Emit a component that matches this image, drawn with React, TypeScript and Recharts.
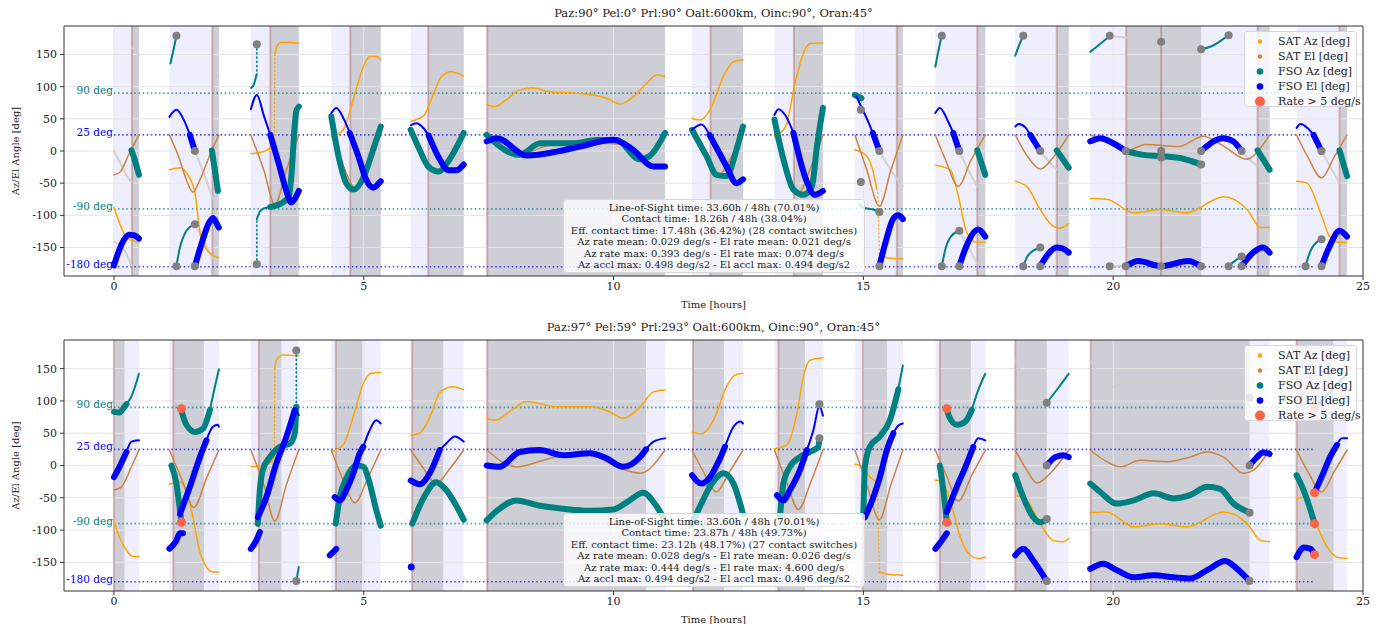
import React from 'react'
import {
  ComposedChart,
  Line,
  Scatter,
  XAxis,
  YAxis,
  ReferenceArea,
  ReferenceLine,
} from 'recharts'

type P = [number, number]

const xTicks = [0, 5, 10, 15, 20, 25]
const yTicks = [-150, -100, -50, 0, 50, 100, 150]

// reference levels drawn as dotted guides
const refLevels = [90, 25, -90, -180]
const refLabels = ['90 deg', '25 deg', '-90 deg', '-180 deg']

const legendNames = ['SAT Az [deg]', 'SAT El [deg]', 'FSO Az [deg]', 'FSO El [deg]', 'Rate > 5 deg/s']

// line-of-sight windows (hours), same orbit in both runs
const losWindows: P[] = [
  [0, 0.5], [1.11, 2.1], [2.74, 3.7], [4.35, 5.34], [5.94, 7.0], [7.46, 11.03], [11.57, 12.59],
  [13.22, 14.19], [14.83, 15.79], [16.44, 17.44], [18.04, 19.11], [19.54, 23.13], [23.67, 24.68],
]

// ---------------- run 1 ----------------
const title1 = 'Paz:90° Pel:0° Prl:90° Oalt:600km, Oinc:90°, Oran:45°'
const stats1 = [
  'Line-of-Sight time: 33.60h / 48h (70.01%)',
  'Contact time: 18.26h / 48h (38.04%)',
  'Eff. contact time: 17.48h (36.42%) (28 contact switches)',
  'Az rate mean: 0.029 deg/s - El rate mean: 0.021 deg/s',
  'Az rate max: 0.393 deg/s - El rate max: 0.074 deg/s',
  'Az accl max: 0.498 deg/s2 - El accl max: 0.494 deg/s2',
]
const contact1: P[] = [
  [0.36, 0.5], [1.97, 2.1], [3.13, 3.7], [4.73, 5.34], [6.29, 7.0], [7.47, 11.03], [11.94, 12.59],
  [13.61, 14.19], [15.67, 15.79], [17.28, 17.44], [18.87, 19.11], [20.26, 21.76], [22.89, 23.13], [24.53, 24.68],
]
const switches1 = [0.36, 1.97, 3.13, 4.73, 6.29, 7.47, 11.94, 13.61, 15.67, 17.28, 18.87, 20.26, 20.96, 22.89, 24.53]

const satAz1: P[][] = [
  [[0, -88], [0.1, -110], [0.2, -128], [0.35, -139], [0.5, -141]],
  [[1.11, -29], [1.35, -26], [1.45, -34], [1.62, -65], [1.72, -125], [1.85, -153], [2.0, -163], [2.1, -166]],
  [[2.74, -4], [2.95, -2], [3.13, 5], [3.2, 18]],
  [[3.22, 150], [3.27, 164], [3.35, 169], [3.7, 168]],
  [[4.35, 23], [4.45, 25], [4.59, 33], [4.79, 80], [4.99, 131], [5.12, 147], [5.25, 147], [5.34, 142]],
  [[5.94, 46], [6.2, 55], [6.4, 90], [6.55, 115], [6.75, 123], [6.9, 120], [7.0, 116]],
  [[7.46, 72], [7.62, 69], [7.86, 80], [8.12, 95], [8.39, 98], [8.72, 92], [9.19, 90], [9.59, 87], [9.86, 82],
    [10.13, 73], [10.39, 84], [10.66, 105], [10.86, 118], [11.03, 116]],
  [[11.57, 51], [11.73, 48], [11.93, 64], [12.2, 116], [12.4, 139], [12.59, 142]],
  [[13.22, 25], [13.33, 28], [13.46, 41], [13.63, 105], [13.8, 152], [13.93, 167], [14.19, 168]],
  [[14.83, 2], [15.07, -8], [15.2, -34], [15.27, -60]],
  [[15.32, -160], [15.47, -166], [15.79, -168]],
  [[16.44, -22], [16.74, -29], [16.9, -70], [17.07, -127], [17.27, -142], [17.44, -142]],
  [[18.04, -47], [18.27, -55], [18.54, -91], [18.8, -117], [18.94, -120], [19.11, -113]],
  [[19.54, -74], [19.87, -75], [20.41, -96], [20.94, -91], [21.48, -96], [22.21, -71], [22.68, -91], [22.95, -119], [23.13, -119]],
  [[23.67, -47], [23.88, -50], [24.15, -96], [24.35, -135], [24.55, -142], [24.68, -142]],
]
const satAzWrap1: P[][] = [
  [[3.21, 18], [3.22, 150]],
  [[15.29, -65], [15.32, -160]],
]
const satEl1: P[][] = [
  [[0, -37], [0.12, -33], [0.3, -5], [0.5, 25]],
  [[1.11, 25], [1.3, -10], [1.45, -45], [1.58, -64], [1.72, -45], [1.9, -10], [2.1, 25]],
  [[2.74, 25], [3.0, -30], [3.22, -83], [3.45, -30], [3.7, 25]],
  [[4.35, 25], [4.6, -25], [4.82, -57], [5.05, -25], [5.34, 25]],
  [[5.94, 25], [6.2, -10], [6.47, -35], [6.75, -10], [7.0, 25]],
  [[7.46, 25], [8.1, -5], [8.8, 10], [9.6, 12], [10.2, 10], [10.55, -12], [11.03, 25]],
  [[11.57, 25], [11.85, -10], [12.08, -40], [12.35, -10], [12.59, 25]],
  [[13.22, 25], [13.46, -25], [13.68, -68], [13.95, -25], [14.19, 25]],
  [[14.83, 25], [15.07, -30], [15.32, -86], [15.55, -30], [15.79, 25]],
  [[16.44, 25], [16.65, -15], [16.9, -55], [17.15, -15], [17.44, 25]],
  [[18.04, 25], [18.3, -10], [18.54, -28], [18.8, -10], [19.11, 25]],
  [[19.54, 25], [19.9, 15], [20.25, 0], [20.65, 10], [21.31, 7], [21.81, 23], [22.2, 8], [22.68, -13], [22.9, 0], [23.13, 25]],
  [[23.67, 25], [23.9, -10], [24.17, -42], [24.42, -10], [24.68, 25]],
]
const fsoAzThick1: P[][] = [
  [[0.35, 1], [0.42, -15], [0.5, -37]],
  [[1.96, 1], [2.02, -30], [2.08, -62]],
  [[3.13, -87], [3.38, -80], [3.5, -70], [3.56, -30], [3.6, 20], [3.65, 62], [3.7, 69]],
  [[4.35, 54], [4.5, -10], [4.65, -50], [4.8, -60], [5.0, -40], [5.2, 5], [5.34, 38]],
  [[5.94, 33], [6.1, 5], [6.3, -25], [6.5, -32], [6.7, -15], [7.0, 28]],
  [[7.46, 25], [7.86, 0], [8.12, -6], [8.53, 12], [9.19, 12], [9.66, 17], [10.06, 17], [10.52, -13], [10.72, -8], [11.03, 28]],
  [[11.57, 33], [11.86, -8], [12.06, -37], [12.26, -39], [12.46, 2], [12.59, 38]],
  [[13.22, 49], [13.4, -13], [13.6, -60], [13.8, -68], [13.97, -55], [14.07, 7], [14.19, 67]],
  [[14.83, 87], [14.96, 82]],
  [[17.28, 1], [17.44, -37]],
  [[18.87, 1], [19.11, -26]],
  [[20.25, 0], [20.6, -6], [20.96, -8], [21.4, -12], [21.76, -21]],
  [[22.89, 1], [23.13, -29]],
  [[24.53, 1], [24.68, -39]],
]
const fsoAzThin1: P[][] = [
  [[1.13, 136], [1.2, 160], [1.25, 179]],
  [[1.25, -179], [1.32, -150], [1.42, -128], [1.52, -118], [1.62, -114]],
  [[2.75, 98], [2.8, 103], [2.85, 118]],
  [[2.86, -106], [2.92, -94], [2.98, -90], [3.13, -87]],
  [[14.92, -83], [15.0, -88], [15.2, -91], [15.32, -95]],
  [[16.44, 131], [16.5, 155], [16.57, 179]],
  [[16.57, -179], [16.65, -150], [16.75, -133], [16.92, -124]],
  [[18.04, 148], [18.12, 165], [18.2, 179]],
  [[18.2, -179], [18.3, -162], [18.54, -150]],
  [[19.54, 154], [19.75, 167], [19.93, 179]],
  [[21.76, 158], [22.0, 164], [22.2, 174], [22.31, 180]],
  [[22.31, -179], [22.45, -170], [22.57, -164]],
  [[23.85, -179], [23.95, -155], [24.17, -137]],
]
const fsoAzWrap1: P[][] = [
  [[2.86, 118], [2.86, 166]],
  [[2.86, -176], [2.86, -106]],
]
const fsoElThick1: P[][] = [
  [[0, -178], [0.1, -155], [0.2, -138], [0.3, -130], [0.4, -131], [0.5, -136]],
  [[1.52, 25], [1.62, 0]],
  [[1.62, -179], [1.75, -145], [1.9, -112], [1.98, -104], [2.05, -112], [2.1, -119]],
  [[3.13, 25], [3.3, -20], [3.45, -62], [3.55, -80], [3.62, -74], [3.7, -62]],
  [[4.72, 28], [4.9, -10], [5.05, -45], [5.19, -57], [5.28, -52], [5.34, -47]],
  [[6.3, 24], [6.5, -10], [6.7, -30], [6.85, -30], [7.0, -21]],
  [[7.46, 15], [7.66, 20], [8.26, -7], [8.86, -1], [9.33, 7], [10.0, 17.5], [10.39, 2], [10.79, -24], [11.03, -24]],
  [[11.92, 25], [12.13, -5], [12.26, -24], [12.46, -50], [12.59, -44]],
  [[13.6, 28], [13.85, -44], [14.03, -68], [14.19, -62]],
  [[15.19, 28], [15.32, 0]],
  [[15.32, -179], [15.45, -140], [15.6, -105], [15.7, -100], [15.79, -106]],
  [[16.8, 28], [16.92, 0]],
  [[16.92, -179], [17.05, -150], [17.3, -122], [17.44, -133]],
  [[18.34, 25], [18.54, 0]],
  [[18.54, -179], [18.7, -160], [18.87, -150], [19.0, -152], [19.11, -158]],
  [[19.54, 15], [19.74, 20], [20.0, 12], [20.25, 0]],
  [[20.25, -179], [20.5, -171], [20.96, -179], [21.5, -171], [21.76, -179]],
  [[21.76, 0], [22.2, 20], [22.4, 15], [22.57, 0]],
  [[22.57, -179], [22.8, -158], [23.0, -150], [23.13, -158]],
  [[24.01, 25], [24.17, 0]],
  [[24.17, -179], [24.35, -145], [24.53, -124], [24.68, -133]],
]
const fsoElThin1: P[][] = [
  [[1.11, 53], [1.25, 64], [1.4, 48], [1.52, 25]],
  [[2.74, 65], [2.86, 87], [3.0, 55], [3.13, 25]],
  [[4.35, 59], [4.45, 67], [4.6, 50], [4.72, 28]],
  [[5.94, 40], [6.05, 43], [6.2, 35], [6.3, 24]],
  [[11.57, 33], [11.76, 41], [11.92, 25]],
  [[13.22, 56], [13.3, 65], [13.45, 54], [13.6, 28]],
  [[14.86, 85], [14.95, 70], [15.1, 45], [15.19, 28]],
  [[16.44, 59], [16.53, 67], [16.7, 45], [16.8, 28]],
  [[18.04, 38], [18.11, 42], [18.25, 36], [18.34, 25]],
  [[23.67, 36], [23.75, 42], [23.9, 35], [24.01, 25]],
]
const ghost1: P[][] = [
  [[0, 0], [0.12, -18], [0.25, -38], [0.35, -48]],
  [[0, -141], [0.12, -146], [0.25, -160], [0.35, -178]],
  [[0.38, 160], [0.5, 148]],
  [[1.62, 0], [1.8, -35], [1.98, -75]],
  [[1.62, -114], [1.8, -140], [1.98, -168]],
  [[2.02, 125], [2.1, 115]],
  [[15.32, 0], [15.55, -30], [15.79, -55]],
  [[16.92, 0], [17.1, -30], [17.28, -55]],
  [[16.92, -124], [17.1, -150], [17.28, -175]],
  [[18.54, 0], [18.7, -15], [18.87, -29]],
  [[19.93, 179], [20.4, 175], [20.96, 170], [21.4, 164], [21.76, 158]],
  [[19.93, -179], [20.25, -179]],
  [[22.57, 0], [22.75, -15], [22.89, -24]],
  [[24.17, 0], [24.35, -25], [24.53, -50]],
]
const grayDots1: P[] = [
  [1.25, 179], [1.62, 0], [1.25, -179], [1.62, -114], [1.62, -179], [2.86, 166], [2.86, -176],
  [14.95, 64], [14.95, -48], [15.32, 0], [15.32, -95], [15.32, -179],
  [16.57, 179], [16.92, 0], [16.57, -179], [16.92, -124], [16.92, -179],
  [18.2, 179], [18.54, 0], [18.2, -179], [18.54, -150], [18.54, -179],
  [19.93, 179], [20.96, 170], [21.76, 158], [22.31, 180], [20.25, 0], [20.96, 0], [20.96, -10], [21.76, 0],
  [21.76, -21], [22.57, 0], [19.93, -179], [20.25, -179], [20.96, -179], [21.76, -179], [22.31, -179],
  [22.57, -164], [22.57, -179], [24.17, 0], [23.85, -179], [24.17, -137], [24.17, -179],
]
const redDots1: P[] = []
const blueDots1: P[] = []

// ---------------- run 2 ----------------
const title2 = 'Paz:97° Pel:59° Prl:293° Oalt:600km, Oinc:90°, Oran:45°'
const stats2 = [
  'Line-of-Sight time: 33.60h / 48h (70.01%)',
  'Contact time: 23.87h / 48h (49.73%)',
  'Eff. contact time: 23.12h (48.17%) (27 contact switches)',
  'Az rate mean: 0.028 deg/s - El rate mean: 0.026 deg/s',
  'Az rate max: 0.444 deg/s - El rate max: 4.600 deg/s',
  'Az accl max: 0.494 deg/s2 - El accl max: 0.496 deg/s2',
]
const contact2: P[] = [
  [0, 0.21], [1.19, 1.8], [2.9, 3.35], [4.44, 4.97], [5.97, 6.59], [7.47, 10.65], [11.59, 12.21],
  [13.3, 13.83], [14.99, 15.47], [16.53, 17.15], [18.04, 18.67], [19.55, 22.73], [23.67, 24.41],
]
const switches2 = [0, 1.19, 2.9, 4.44, 5.97, 7.47, 11.59, 13.3, 14.99, 16.53, 18.04, 19.55, 23.67]

const satAz2: P[][] = [
  [[0, -87], [0.11, -111], [0.25, -131], [0.38, -141], [0.5, -141]],
  [[1.11, -29], [1.31, -25], [1.45, -38], [1.58, -80], [1.71, -131], [1.85, -157], [1.98, -165], [2.1, -165]],
  [[2.74, -2], [2.98, 0], [3.15, 6], [3.2, 12]],
  [[3.22, 150], [3.25, 163], [3.38, 171], [3.7, 170]],
  [[4.35, 21], [4.59, 32], [4.79, 76], [4.99, 127], [5.15, 143], [5.34, 144]],
  [[5.94, 47], [6.12, 50], [6.35, 80], [6.53, 114], [6.79, 122], [7.0, 117]],
  [[7.46, 73], [7.62, 70], [7.95, 85], [8.26, 99], [8.86, 91], [9.53, 91], [9.9, 84], [10.19, 73], [10.5, 88], [10.8, 114], [11.03, 117]],
  [[11.57, 52], [11.76, 49], [12.0, 70], [12.26, 122], [12.43, 140], [12.59, 143]],
  [[13.22, 26], [13.47, 32], [13.67, 81], [13.8, 138], [13.93, 163], [14.19, 167]],
  [[14.83, 2], [15.0, -2], [15.07, -12], [15.25, -25]],
  [[15.32, -165], [15.47, -168], [15.79, -170]],
  [[16.44, -23], [16.57, -25], [16.74, -54], [16.94, -111], [17.14, -139], [17.3, -144], [17.44, -142]],
  [[18.04, -46], [18.27, -54], [18.54, -90], [18.8, -116], [19.0, -118], [19.11, -113]],
  [[19.54, -73], [19.87, -72], [20.41, -95], [20.94, -90], [21.48, -95], [22.21, -72], [22.68, -90], [22.95, -116], [23.13, -118]],
  [[23.67, -51], [23.85, -49], [24.01, -80], [24.28, -126], [24.48, -142], [24.68, -144]],
]
const satAzWrap2: P[][] = [
  [[3.21, 12], [3.22, 150]],
  [[15.28, -28], [15.32, -165]],
]
const satEl2: P[][] = [
  [[0, -38], [0.15, -33], [0.35, -2], [0.5, 24]],
  [[1.11, 24], [1.35, -20], [1.6, -65], [1.85, -20], [2.1, 24]],
  [[2.74, 24], [3.0, -30], [3.22, -86], [3.45, -30], [3.7, 24]],
  [[4.35, 24], [4.6, -25], [4.82, -58], [5.08, -20], [5.34, 24]],
  [[5.94, 24], [6.2, -5], [6.45, -28], [6.72, -5], [7.0, 24]],
  [[7.46, 24], [8.06, -2], [8.86, 13], [9.53, 16], [10.06, -2], [10.53, -12], [11.03, 24]],
  [[11.57, 24], [11.8, -10], [12.05, -41], [12.32, -10], [12.59, 24]],
  [[13.22, 24], [13.46, -25], [13.7, -68], [13.95, -25], [14.19, 24]],
  [[14.83, 24], [15.07, -30], [15.32, -84], [15.55, -30], [15.79, 24]],
  [[16.44, 24], [16.66, -15], [16.9, -55], [17.17, -15], [17.44, 24]],
  [[18.04, 24], [18.27, -7], [18.47, -27], [18.74, -12], [19.11, 24]],
  [[19.54, 24], [19.87, 6], [20.14, -2], [20.54, 8], [21.07, 6], [21.54, 13], [21.87, 21], [22.21, 13], [22.61, -12], [22.81, -7], [23.13, 24]],
  [[23.67, 24], [23.9, -10], [24.17, -41], [24.42, -10], [24.68, 24]],
]
const fsoAzThick2: P[][] = [
  [[0, 83], [0.11, 82], [0.21, 91], [0.25, 95]],
  [[1.35, 85], [1.45, 63], [1.62, 52], [1.78, 57], [1.92, 86]],
  [[1.15, 0], [1.25, -28], [1.32, -69], [1.35, -87]],
  [[2.88, -90], [2.92, -38], [2.98, -7], [3.12, 13], [3.32, 29], [3.52, 34], [3.62, 50], [3.65, 91]],
  [[4.44, -90], [4.52, -49], [4.65, -20], [4.85, 0], [4.99, -2], [5.12, -28], [5.25, -69], [5.34, -93]],
  [[5.97, -90], [6.2, -50], [6.45, -26], [6.65, -38], [6.85, -62], [7.0, -84]],
  [[7.46, -85], [7.7, -68], [8.06, -54], [8.5, -62], [9.0, -67], [9.5, -70], [10.0, -68], [10.3, -55], [10.59, -42], [10.85, -62], [11.03, -85]],
  [[11.57, -90], [11.75, -60], [11.95, -30], [12.2, -12], [12.4, -28], [12.59, -75]],
  [[13.33, -80], [13.4, -28], [13.53, -2], [13.73, 13], [13.93, 21], [14.1, 29], [14.12, 42]],
  [[15.0, -75], [15.03, -2], [15.13, 29], [15.33, 45], [15.53, 70], [15.7, 118]],
  [[16.67, 88], [16.72, 75], [16.87, 63], [17.04, 68], [17.17, 86]],
  [[16.53, 0], [16.6, -38], [16.67, -88]],
  [[18.04, -15], [18.2, -49], [18.4, -80], [18.54, -88], [18.67, -83]],
  [[19.54, -28], [19.74, -41], [20.07, -59], [20.41, -54], [20.81, -43], [21.21, -51], [21.54, -46], [21.88, -33], [22.14, -36], [22.41, -59], [22.73, -73]],
  [[23.67, -15], [23.81, -38], [23.95, -69], [24.03, -90]],
]
const fsoAzThin2: P[][] = [
  [[0.25, 95], [0.35, 107], [0.5, 142]],
  [[1.92, 86], [2.02, 122], [2.1, 149]],
  [[3.65, -179], [3.7, -157]],
  [[15.7, 118], [15.79, 155]],
  [[17.17, 86], [17.3, 117], [17.44, 142]],
  [[18.67, 97], [18.9, 120], [19.11, 142]],
  [[24.03, 90], [24.3, 110], [24.68, 142]],
]
const fsoAzWrap2: P[][] = [
  [[3.65, 91], [3.65, 178]],
]
const fsoElThick2: P[][] = [
  [[0, -18], [0.11, -2], [0.25, 21]],
  [[1.32, -75], [1.52, -33], [1.72, 13], [1.85, 39]],
  [[1.11, -129], [1.25, -116], [1.32, -105], [1.38, -105]],
  [[2.88, -80], [3.05, -49], [3.25, 3], [3.45, 44], [3.62, 86]],
  [[2.74, -129], [2.85, -116], [2.92, -103]],
  [[4.42, -49], [4.52, -54], [4.65, -38], [4.79, -12], [4.92, 19], [4.99, 29]],
  [[4.32, -139], [4.45, -129]],
  [[5.94, -23], [6.12, -29], [6.32, -12], [6.52, 24]],
  [[7.46, 0], [7.72, -2], [8.12, 21], [8.52, 24], [8.99, 16], [9.53, 19], [9.86, 11], [10.19, -2], [10.53, 13], [10.65, 25]],
  [[11.57, -15], [11.76, -28], [11.93, -18], [12.1, 6], [12.23, 29]],
  [[13.27, -46], [13.4, -54], [13.53, -38], [13.73, -7], [13.87, 24]],
  [[15.03, -80], [15.2, -49], [15.33, -18], [15.47, 24], [15.6, 50]],
  [[16.67, -72], [16.87, -33], [17.07, 3], [17.2, 29]],
  [[16.44, -129], [16.57, -116], [16.67, -105]],
  [[18.67, 0], [18.84, 13], [19.0, 16], [19.11, 13]],
  [[18.04, -139], [18.2, -129], [18.4, -147], [18.67, -179]],
  [[19.54, -160], [19.8, -152], [20.07, -162], [20.41, -173], [20.81, -170], [21.21, -173], [21.54, -175], [21.88, -162], [22.24, -148], [22.48, -160], [22.73, -179]],
  [[22.73, 0], [22.88, 13], [23.0, 20], [23.13, 18]],
  [[24.03, -42], [24.17, -18], [24.34, 13], [24.48, 32]],
  [[23.67, -142], [23.82, -127], [23.95, -129], [24.03, -138]],
]
const fsoElThin2: P[][] = [
  [[0.25, 21], [0.35, 37], [0.5, 39]],
  [[1.85, 39], [1.98, 60], [2.08, 63], [2.1, 60]],
  [[3.62, 86], [3.7, 78]],
  [[4.99, 29], [5.12, 55], [5.25, 70], [5.34, 65]],
  [[6.52, 24], [6.65, 34], [6.82, 45], [7.0, 37]],
  [[10.65, 25], [10.8, 37], [11.03, 42]],
  [[12.23, 29], [12.4, 60], [12.54, 68], [12.59, 65]],
  [[13.87, 24], [14.0, 55], [14.12, 92], [14.19, 77]],
  [[15.6, 50], [15.7, 62], [15.79, 65]],
  [[17.2, 29], [17.3, 42], [17.44, 39]],
  [[24.48, 32], [24.58, 42], [24.68, 42]],
]
const ghost2: P[][] = [
  [[18.04, 163], [18.2, 135], [18.4, 101], [18.67, 97]],
  [[19.54, 163], [20.0, 122], [20.41, 130], [21.2, 130], [21.8, 128], [22.4, 110], [22.73, 105]],
]
const grayDots2: P[] = [
  [3.65, 178], [3.65, -179], [14.12, 95], [14.12, 42], [18.67, 97], [18.67, 0], [18.67, -83], [18.67, -179],
  [22.73, 0], [22.73, -73], [22.73, -179], [22.73, 105],
]
const redDots2: P[] = [
  [1.35, 88], [1.35, -88], [16.67, 88], [16.67, -88], [24.03, -42], [24.03, -90], [24.03, -138], [24.03, 90],
]
const blueDots2: P[] = [[5.95, -157]]

// ----------------------------------------

const FONT = '"DejaVu Serif", serif'
const C = {
  satAz: '#ffa500',
  satEl: '#cd853f',
  fsoAz: '#008080',
  fsoEl: '#0000ff',
  ghost: '#cfcfcf',
  dot: '#808080',
  rate: '#ff6347',
}
const refColors = [C.fsoAz, C.fsoEl, C.fsoAz, C.fsoEl]

const pts = (s: P[]) => s.map(([x, y]) => ({ x, y }))

interface Run {
  title: string
  stats: string[]
  contact: P[]
  switches: number[]
  satAz: P[][]
  satAzWrap: P[][]
  satEl: P[][]
  fsoAzThick: P[][]
  fsoAzThin: P[][]
  fsoAzWrap: P[][]
  fsoElThick: P[][]
  fsoElThin: P[][]
  ghost: P[][]
  grayDots: P[]
  redDots: P[]
  blueDots: P[]
}

const run1: Run = {
  title: title1, stats: stats1, contact: contact1, switches: switches1,
  satAz: satAz1, satAzWrap: satAzWrap1, satEl: satEl1,
  fsoAzThick: fsoAzThick1, fsoAzThin: fsoAzThin1, fsoAzWrap: fsoAzWrap1,
  fsoElThick: fsoElThick1, fsoElThin: fsoElThin1, ghost: ghost1,
  grayDots: grayDots1, redDots: redDots1, blueDots: blueDots1,
}
const run2: Run = {
  title: title2, stats: stats2, contact: contact2, switches: switches2,
  satAz: satAz2, satAzWrap: satAzWrap2, satEl: satEl2,
  fsoAzThick: fsoAzThick2, fsoAzThin: fsoAzThin2, fsoAzWrap: fsoAzWrap2,
  fsoElThick: fsoElThick2, fsoElThin: fsoElThin2, ghost: ghost2,
  grayDots: grayDots2, redDots: redDots2, blueDots: blueDots2,
}

function segLines(segs: P[][], key: string, stroke: string, width: number, extra: any = {}) {
  return segs.map((s, i) => (
    <Line
      key={key + i}
      data={pts(s)}
      dataKey="y"
      type={extra.type || 'monotone'}
      stroke={stroke}
      strokeWidth={width}
      strokeOpacity={extra.opacity ?? 1}
      strokeDasharray={extra.dash}
      strokeLinecap="round"
      dot={false}
      activeDot={false}
      legendType="none"
      isAnimationActive={false}
    />
  ))
}

function dots(list: P[], key: string, fill: string, r: number) {
  if (!list.length) return null
  return (
    <Scatter
      key={key}
      data={pts(list)}
      dataKey="y"
      fill={fill}
      isAnimationActive={false}
      shape={(p: any) => <circle cx={p.cx} cy={p.cy} r={r} fill={fill} />}
    />
  )
}

const refLabel = (text: string, color: string) => (props: any) => {
  const vb = props.viewBox
  if (!vb) return null
  return (
    <text x={vb.x - 1} y={vb.y + 1} textAnchor="end" fill={color} fontSize={10.5} fontFamily={FONT}>
      {text}
    </text>
  )
}

function LegendBox({ top }: { top: number }) {
  const marks = [
    { c: C.satAz, r: 2.2 },
    { c: C.satEl, r: 2.2 },
    { c: C.fsoAz, r: 3.3 },
    { c: C.fsoEl, r: 3.3 },
    { c: C.rate, r: 5 },
  ]
  return (
    <div
      style={{
        position: 'absolute', left: 1244, top, width: 113, height: 76,
        background: 'rgba(255,255,255,0.8)', border: '1px solid #d6d6d6', borderRadius: 3,
        boxSizing: 'border-box', fontFamily: FONT, fontSize: 11, color: '#222',
      }}
    >
      {legendNames.map((n, i) => (
        <div key={n} style={{ position: 'absolute', left: 0, top: 2 + i * 15, height: 15, display: 'flex', alignItems: 'center' }}>
          <svg width={30} height={15}>
            <circle cx={15} cy={7.5} r={marks[i].r} fill={marks[i].c} />
          </svg>
          <span style={{ marginLeft: 3, whiteSpace: 'nowrap' }}>{n}</span>
        </div>
      ))}
    </div>
  )
}

function Panel({ run, top, mTop, mBottom }: { run: Run; top: number; mTop: number; mBottom: number }) {
  const yDom = 194.3
  return (
    <div style={{ position: 'absolute', left: 0, top, width: 1380, height: 312 }}>
      <div
        style={{
          position: 'absolute', left: 64, width: 1299, top: mTop - 20, textAlign: 'center',
          fontFamily: FONT, fontSize: 11.5, color: '#222',
        }}
      >
        {run.title}
      </div>
      <ComposedChart width={1380} height={312} margin={{ top: mTop, right: 17, bottom: mBottom, left: 8 }}>
        {losWindows.map(([a, b], i) => (
          <ReferenceArea key={'los' + i} x1={a} x2={b} fill="#eeeefc" fillOpacity={1} stroke="none" />
        ))}
        {run.contact.map(([a, b], i) => (
          <ReferenceArea key={'ct' + i} x1={a} x2={b} fill="#cdced6" fillOpacity={1} stroke="none" />
        ))}
        {/* grid drawn over the shaded windows, like the original */}
        {yTicks.map((v) => (
          <ReferenceLine key={'gy' + v} y={v} stroke="#e4e4e8" strokeWidth={1} />
        ))}
        {xTicks.slice(0, -1).map((v) => (
          <ReferenceLine key={'gx' + v} x={v} stroke="#e4e4e8" strokeWidth={1} />
        ))}
        {run.switches.map((v, i) => (
          <ReferenceLine key={'sw' + i} x={v} stroke="#b05a5a" strokeOpacity={0.4} strokeWidth={2} />
        ))}
        <XAxis
          type="number"
          dataKey="x"
          domain={[-1, 25]}
          ticks={xTicks}
          allowDataOverflow
          height={32}
          tickSize={4}
          tickMargin={2}
          stroke="#333"
          tick={{ fontSize: 11, fill: '#222', fontFamily: FONT }}
          label={{ value: 'Time [hours]', position: 'insideBottom', offset: 0, fontSize: 10, fill: '#222', fontFamily: FONT }}
        />
        <YAxis
          type="number"
          dataKey="y"
          domain={[-yDom, yDom]}
          ticks={yTicks}
          allowDataOverflow
          width={56}
          tickSize={4}
          tickMargin={3}
          stroke="#333"
          tick={{ fontSize: 11, fill: '#222', fontFamily: FONT }}
          label={{
            value: 'Az/El Angle [deg]', angle: -90, position: 'insideLeft', offset: 7,
            fontSize: 10, fill: '#222', fontFamily: FONT, style: { textAnchor: 'middle' },
          }}
        />
        <ReferenceLine y={yDom} stroke="#333" strokeWidth={1} />
        <ReferenceLine x={25} stroke="#333" strokeWidth={1} />
        {refLevels.map((v, i) => (
          <ReferenceLine
            key={'lvl' + i}
            segment={[{ x: 0, y: v }, { x: 24, y: v }]}
            stroke={refColors[i]}
            strokeOpacity={0.7}
            strokeWidth={1.6}
            strokeDasharray="1.5 2.6"
            label={refLabel(refLabels[i], refColors[i])}
          />
        ))}
        {segLines(run.ghost, 'gh', C.ghost, 2.2, { opacity: 0.85 })}
        {segLines(run.satAz, 'saz', C.satAz, 1.5)}
        {segLines(run.satAzWrap, 'sazw', C.satAz, 1.3, { type: 'linear', dash: '1 3' })}
        {segLines(run.satEl, 'sel', C.satEl, 1.5)}
        {segLines(run.fsoAzThin, 'fazt', C.fsoAz, 2)}
        {segLines(run.fsoAzWrap, 'fazw', C.fsoAz, 1.6, { type: 'linear', dash: '1.2 3' })}
        {segLines(run.fsoAzThick, 'fazk', C.fsoAz, 6)}
        {segLines(run.fsoElThin, 'felt', C.fsoEl, 2)}
        {segLines(run.fsoElThick, 'felk', C.fsoEl, 6)}
        {dots(run.blueDots, 'bd', C.fsoEl, 3.5)}
        {dots(run.grayDots, 'gd', C.dot, 4)}
        {dots(run.redDots, 'rd', C.rate, 4.5)}
      </ComposedChart>
      <LegendBox top={mTop + 5} />
      <div
        style={{
          position: 'absolute', left: 563, top: mTop + 173, width: 302, height: 74,
          background: 'rgba(255,255,255,0.8)', border: '1px solid #d6d6d6', borderRadius: 3,
          boxSizing: 'border-box', paddingTop: 2, textAlign: 'center',
          fontFamily: FONT, fontSize: 10, lineHeight: '11.4px', color: '#222',
        }}
      >
        {run.stats.map((s) => (
          <div key={s} style={{ whiteSpace: 'nowrap' }}>{s}</div>
        ))}
      </div>
    </div>
  )
}

export default function App() {
  return (
    <div style={{ position: 'absolute', left: 0, top: 0, width: 1380, height: 624, background: '#fff' }}>
      <Panel run={run1} top={0} mTop={26} mBottom={4} />
      <Panel run={run2} top={312} mTop={28} mBottom={1} />
    </div>
  )
}
